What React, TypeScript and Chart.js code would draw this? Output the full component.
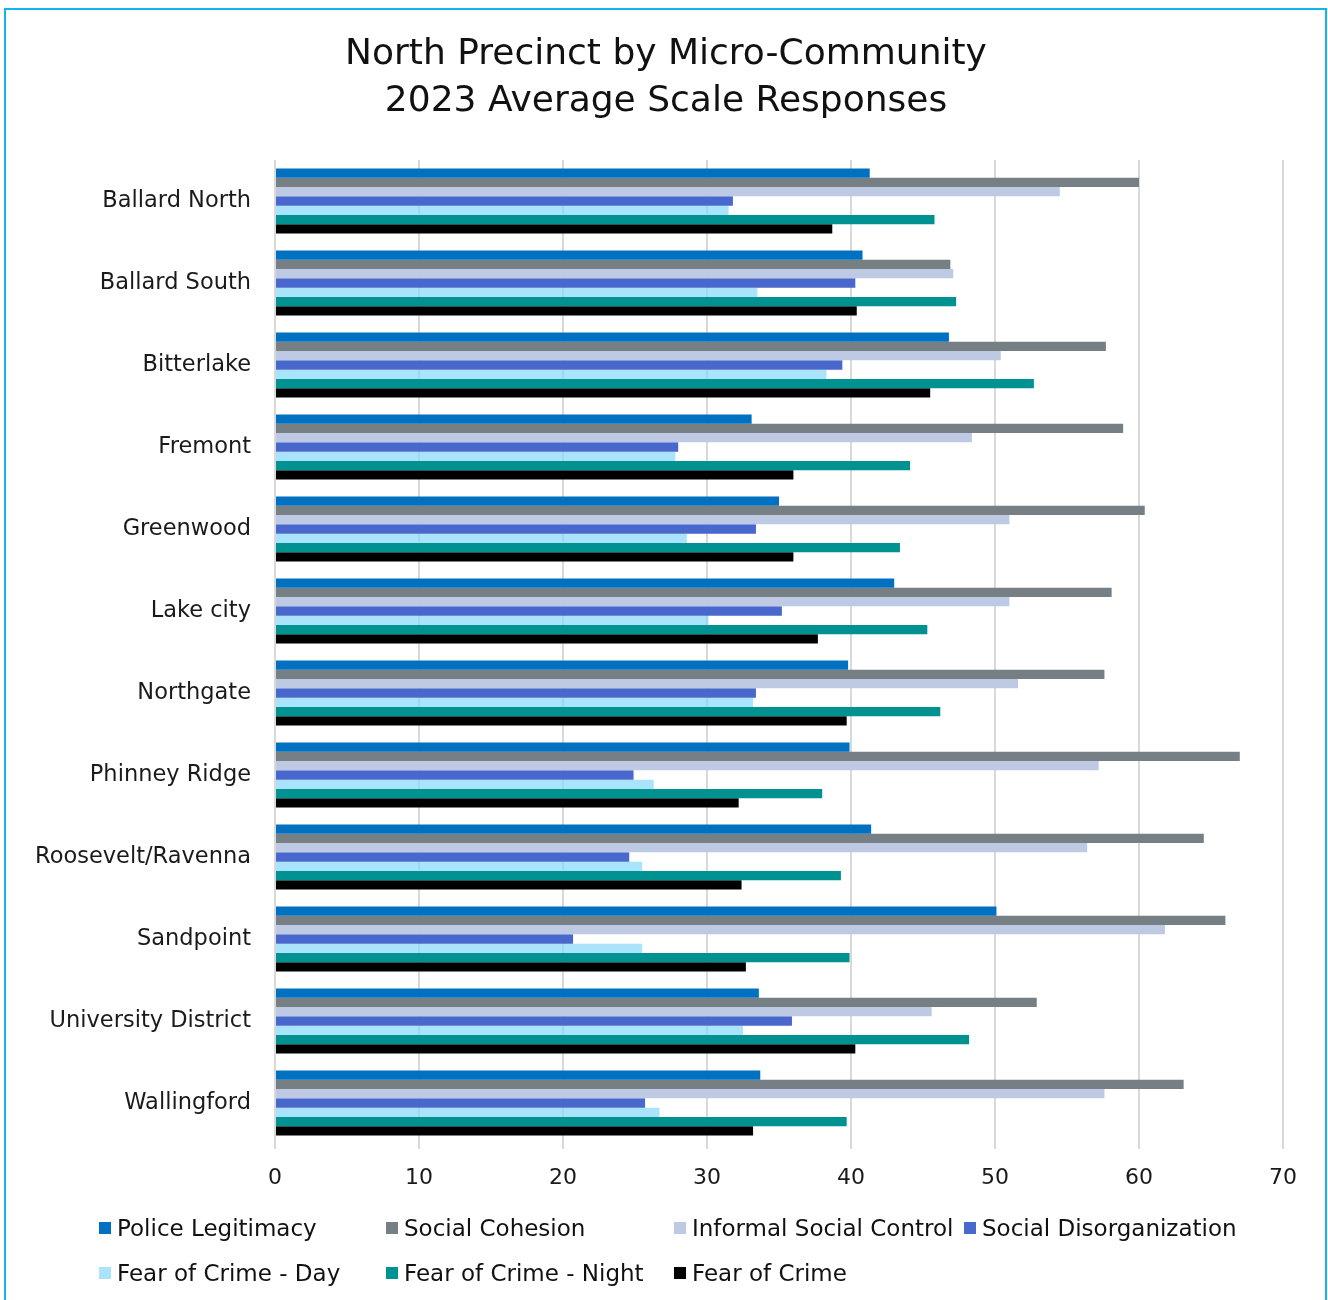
import React, { useEffect, useRef } from "react";
import { Chart, registerables } from "chart.js";

Chart.register(...registerables);

const categories = [
  "Ballard North",
  "Ballard South",
  "Bitterlake",
  "Fremont",
  "Greenwood",
  "Lake city",
  "Northgate",
  "Phinney Ridge",
  "Roosevelt/Ravenna",
  "Sandpoint",
  "University District",
  "Wallingford",
];

const policeLegitimacy = [41.3, 40.8, 46.8, 33.1, 35.0, 43.0, 39.8, 39.9, 41.4, 50.1, 33.6, 33.7];
const socialCohesion = [60.0, 46.9, 57.7, 58.9, 60.4, 58.1, 57.6, 67.0, 64.5, 66.0, 52.9, 63.1];
const informalSocialControl = [54.5, 47.1, 50.4, 48.4, 51.0, 51.0, 51.6, 57.2, 56.4, 61.8, 45.6, 57.6];
const socialDisorganization = [31.8, 40.3, 39.4, 28.0, 33.4, 35.2, 33.4, 24.9, 24.6, 20.7, 35.9, 25.7];
const fearOfCrimeDay = [31.5, 33.5, 38.3, 27.8, 28.6, 30.1, 33.2, 26.3, 25.5, 25.5, 32.5, 26.7];
const fearOfCrimeNight = [45.8, 47.3, 52.7, 44.1, 43.4, 45.3, 46.2, 38.0, 39.3, 39.9, 48.2, 39.7];
const fearOfCrime = [38.7, 40.4, 45.5, 36.0, 36.0, 37.7, 39.7, 32.2, 32.4, 32.7, 40.3, 33.2];

const seriesNames = [
  "Police Legitimacy",
  "Social Cohesion",
  "Informal Social Control",
  "Social Disorganization",
  "Fear of Crime - Day",
  "Fear of Crime - Night",
  "Fear of Crime",
];
const seriesColors = [
  "#0070C0",
  "#768084",
  "#BEC9E3",
  "#4868CD",
  "rgba(132,215,251,0.7)",
  "#009191",
  "#000000",
];
const legendSwatches = ["#0070C0", "#768084", "#BEC9E3", "#4868CD", "#A9E3FC", "#009191", "#000000"];

const titleLines = ["North Precinct by Micro-Community", "2023 Average Scale Responses"];
const xMin = 0;
const xMax = 70;
const xStep = 10;

const FONT = "'DejaVu Sans', sans-serif";

export default function App() {
  const canvasRef = useRef<HTMLCanvasElement | null>(null);

  useEffect(() => {
    const canvas = canvasRef.current;
    if (!canvas) return;
    const allSeries = [
      policeLegitimacy,
      socialCohesion,
      informalSocialControl,
      socialDisorganization,
      fearOfCrimeDay,
      fearOfCrimeNight,
      fearOfCrime,
    ];
    const chart = new Chart(canvas, {
      type: "bar",
      data: {
        labels: categories,
        datasets: allSeries.map((d, i) => ({
          label: seriesNames[i],
          data: d,
          backgroundColor: seriesColors[i],
          borderWidth: 0,
          categoryPercentage: 0.79,
          barPercentage: 1.0,
        })),
      },
      options: {
        indexAxis: "y",
        animation: false,
        responsive: false,
        maintainAspectRatio: false,
        layout: { padding: { left: 0, right: 45, top: 160, bottom: 96 } },
        plugins: {
          legend: { display: false },
          title: { display: false },
          tooltip: { enabled: false },
        },
        scales: {
          x: {
            type: "linear",
            min: xMin,
            max: xMax,
            ticks: {
              stepSize: xStep,
              font: { family: FONT, size: 22 },
              color: "#1a1a1a",
              padding: 16,
            },
            grid: {
              color: "#d9d9d9",
              lineWidth: 2,
              drawTicks: true,
              tickLength: 5,
            },
            border: { display: false },
            afterFit: (scale: any) => {
              scale.height = 60;
            },
          },
          y: {
            type: "category",
            ticks: {
              font: { family: FONT, size: 22.5 },
              color: "#1a1a1a",
              padding: 24,
            },
            grid: { display: false, drawTicks: false, tickLength: 0 },
            border: { display: false },
            afterFit: (scale: any) => {
              scale.width = 275;
            },
          },
        },
      },
    });
    return () => chart.destroy();
  }, []);

  const legendCols = [99, 386, 674, 964];
  const legendRows = [1228, 1273];

  return (
    <div
      style={{
        position: "absolute",
        left: 0,
        top: 0,
        width: 1328,
        height: 1300,
        overflow: "hidden",
        background: "#ffffff",
        fontFamily: FONT,
      }}
    >
      <div
        style={{
          position: "absolute",
          left: 4,
          top: 8,
          width: 1319,
          height: 1320,
          border: "2px solid #10B4EE",
        }}
      />
      <canvas
        ref={canvasRef}
        width={1328}
        height={1300}
        style={{ position: "absolute", left: 0, top: 0, width: 1328, height: 1300 }}
      />
      <div
        style={{
          position: "absolute",
          left: 0,
          top: 28,
          width: 1332,
          textAlign: "center",
          fontSize: 36,
          lineHeight: "47px",
          color: "#111111",
        }}
      >
        {titleLines.map((t) => (
          <div key={t}>{t}</div>
        ))}
      </div>
      {seriesNames.map((name, i) => {
        const col = legendCols[i % 4];
        const row = legendRows[Math.floor(i / 4)];
        return (
          <div
            key={name}
            style={{
              position: "absolute",
              left: col,
              top: row - 15,
              height: 30,
              display: "flex",
              alignItems: "center",
              whiteSpace: "nowrap",
              fontSize: 23,
              color: "#111111",
            }}
          >
            <span
              style={{
                display: "inline-block",
                width: 12,
                height: 12,
                background: legendSwatches[i],
                marginRight: 6,
              }}
            />
            <span>{name}</span>
          </div>
        );
      })}
    </div>
  );
}
